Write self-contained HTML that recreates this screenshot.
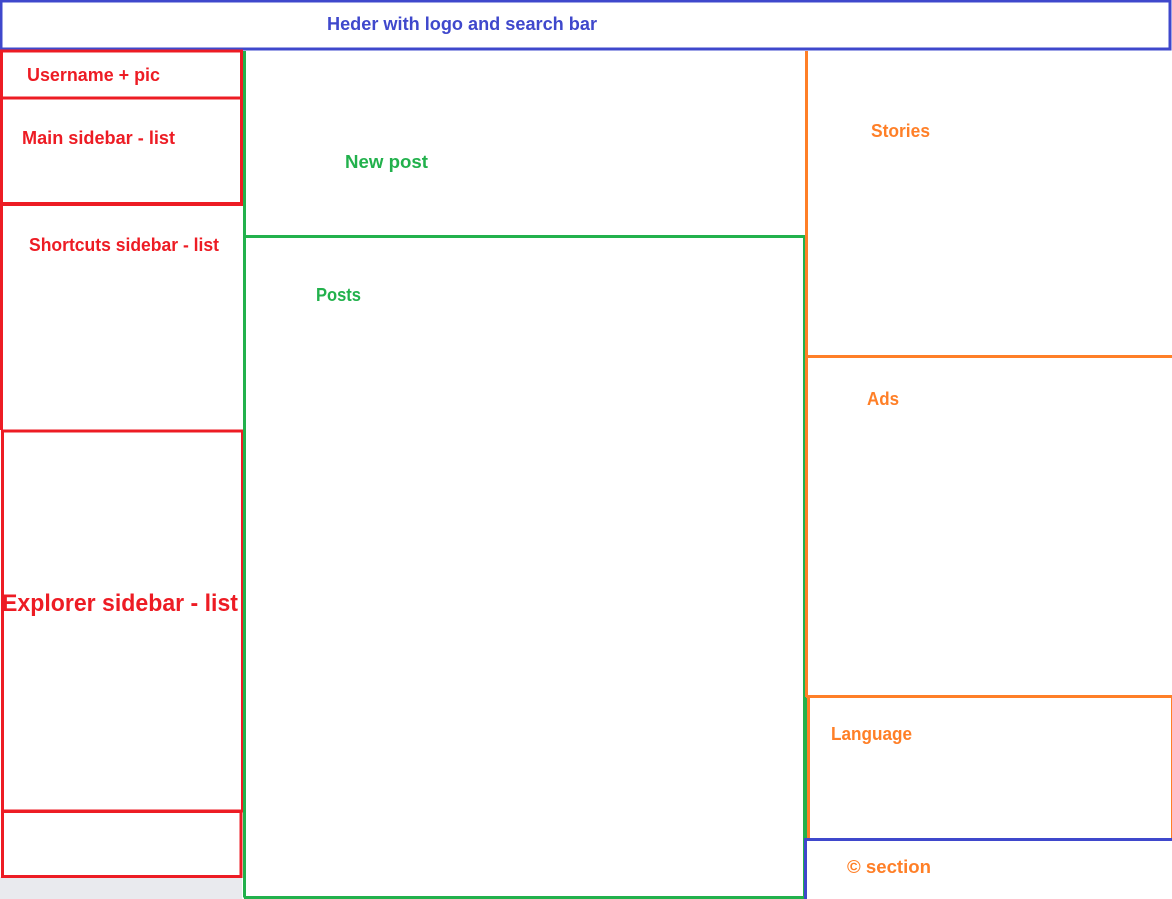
<!DOCTYPE html>
<html><head><meta charset="utf-8"><style>
html,body{margin:0;padding:0;background:#fff;width:1172px;height:899px;overflow:hidden}
svg{display:block}
text{font-family:"Liberation Sans",sans-serif;font-weight:bold}
</style></head><body>
<svg width="1172" height="899" viewBox="0 0 1172 899" xmlns="http://www.w3.org/2000/svg">
<rect x="0" y="877" width="242" height="22" fill="#e9eaee"/>
<!-- header -->
<rect x="1" y="1" width="1169" height="48" fill="none" stroke="#3f48cc" stroke-width="3"/>
<!-- left red -->
<g fill="none" stroke="#ed1c24">
<rect x="1.5" y="51" width="240" height="47" stroke-width="3"/>
<line x1="1.5" y1="98" x2="1.5" y2="430" stroke-width="3"/>
<line x1="241.5" y1="98" x2="241.5" y2="204" stroke-width="3"/>
<line x1="0" y1="204" x2="243" y2="204" stroke-width="4"/>
<rect x="2.5" y="431" width="240" height="380" stroke-width="3"/>
<rect x="2.5" y="811.5" width="238.5" height="65" stroke-width="3"/>
</g>
<!-- green -->
<g fill="none" stroke="#22b14c" stroke-width="3">
<line x1="244.5" y1="51" x2="244.5" y2="897.5"/>
<line x1="244" y1="236.5" x2="806" y2="236.5"/>
<line x1="804.5" y1="236" x2="804.5" y2="898"/>
<line x1="244" y1="897.5" x2="806" y2="897.5"/>
<line x1="806" y1="698" x2="806" y2="838"/>
</g>
<!-- orange -->
<g fill="none" stroke="#ff7f27" stroke-width="3">
<line x1="806.5" y1="51" x2="806.5" y2="697"/>
<line x1="806" y1="356.5" x2="1172" y2="356.5"/>
<line x1="806" y1="696.5" x2="1172" y2="696.5"/>
<line x1="808.5" y1="697" x2="808.5" y2="838"/>
<line x1="1171.5" y1="697" x2="1171.5" y2="838" stroke-width="1"/>
</g>
<!-- blue footer -->
<g fill="none" stroke="#3f48cc" stroke-width="3">
<line x1="804" y1="839.5" x2="1172" y2="839.5"/>
<line x1="805.5" y1="839" x2="805.5" y2="899"/>
</g>
<!-- labels -->
<text x="327" y="30" font-size="18" fill="#3f48cc" textLength="270" lengthAdjust="spacingAndGlyphs">Heder with logo and search bar</text>
<text x="27" y="81" font-size="18" fill="#ed1c24" textLength="133" lengthAdjust="spacingAndGlyphs">Username + pic</text>
<text x="22" y="144" font-size="18" fill="#ed1c24" textLength="153" lengthAdjust="spacingAndGlyphs">Main sidebar - list</text>
<text x="29" y="251" font-size="18" fill="#ed1c24" textLength="190" lengthAdjust="spacingAndGlyphs">Shortcuts sidebar - list</text>
<text x="2" y="611" font-size="24" fill="#ed1c24" textLength="236" lengthAdjust="spacingAndGlyphs">Explorer sidebar - list</text>
<text x="345" y="168" font-size="18" fill="#22b14c" textLength="83" lengthAdjust="spacingAndGlyphs">New post</text>
<text x="316" y="301" font-size="18" fill="#22b14c" textLength="45" lengthAdjust="spacingAndGlyphs">Posts</text>
<text x="871" y="137" font-size="18" fill="#ff7f27" textLength="59" lengthAdjust="spacingAndGlyphs">Stories</text>
<text x="867" y="405" font-size="18" fill="#ff7f27" textLength="32" lengthAdjust="spacingAndGlyphs">Ads</text>
<text x="831" y="740" font-size="18" fill="#ff7f27" textLength="81" lengthAdjust="spacingAndGlyphs">Language</text>
<text x="847" y="873" font-size="18" fill="#ff7f27" textLength="84" lengthAdjust="spacingAndGlyphs">© section</text>
</svg>
</body></html>
